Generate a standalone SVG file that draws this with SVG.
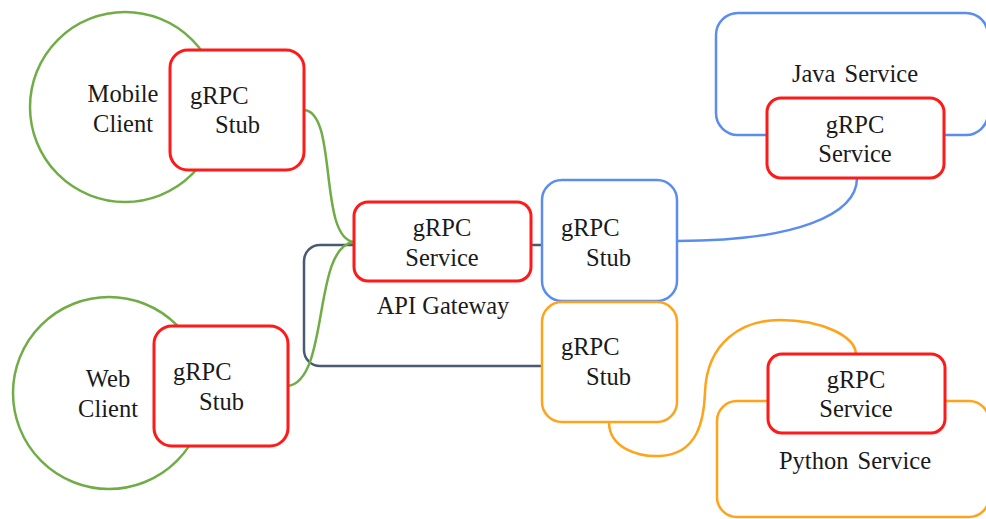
<svg xmlns="http://www.w3.org/2000/svg" width="986" height="519" viewBox="0 0 986 519">
<style>
  text { font-family: "Liberation Serif", "Times New Roman", serif; font-size: 24.5px; fill: #1a1a1a; }
  .mid { text-anchor: middle; }
  .red { fill: #fff; stroke: #FF1A1A; stroke-width: 3; }
  .grn { fill: #fff; stroke: #70AD47; stroke-width: 2.5; }
  .blu { fill: #fff; stroke: #5B8DEF; stroke-width: 2.5; }
  .org { fill: #fff; stroke: #FFA31A; stroke-width: 2.5; }
  .c { fill: none; stroke-width: 2.5; }
</style>
<rect width="986" height="519" fill="#fff"/>

<g id="java-service">
  <rect class="blu" x="716" y="13" width="272" height="122" rx="22"/>
  <text class="mid" x="855" y="82" word-spacing="3">Java Service</text>
</g>
<g id="python-service">
  <rect class="org" x="717" y="401" width="272" height="116" rx="20"/>
  <text class="mid" x="855" y="469" word-spacing="3">Python Service</text>
</g>
<g id="api-gateway">
  <rect x="304" y="245" width="260" height="121" rx="16" fill="none" stroke="#4A5A70" stroke-width="2.5"/>
  <text class="mid" x="443" y="314">API Gateway</text>
</g>

<g id="connectors">
  <path class="c" stroke="#70AD47" d="M304,110 C338,112 318,238 354,242"/>
  <path class="c" stroke="#70AD47" d="M288,386 C330,380 312,246 354,242"/>
  <path class="c" stroke="#5B8DEF" d="M677,241 C795,241 857,215 857,178"/>
  <path class="c" stroke="#FFA31A" d="M609,422 C609,448 638,457 660,456 C698,454 704,420 705,392 C707,342 742,320 780,320 C822,320 855,336 856,354"/>
</g>

<g id="mobile-client">
  <circle class="grn" cx="125" cy="107" r="95"/>
  <text class="mid" x="123" y="102">Mobile</text>
  <text class="mid" x="123" y="132">Client</text>
</g>
<g id="mobile-stub">
  <rect class="red" x="170" y="50" width="134" height="120" rx="18"/>
  <text x="190" y="104">gRPC</text>
  <text x="215" y="133">Stub</text>
</g>

<g id="web-client">
  <circle class="grn" cx="109" cy="393" r="96"/>
  <text class="mid" x="108" y="387">Web</text>
  <text class="mid" x="108" y="417">Client</text>
</g>
<g id="web-stub">
  <rect class="red" x="154" y="326" width="134" height="120" rx="18"/>
  <text x="173" y="380">gRPC</text>
  <text x="199" y="410">Stub</text>
</g>

<g id="gateway-service">
  <rect class="red" x="354" y="202" width="177" height="79" rx="14"/>
  <text class="mid" x="442" y="236">gRPC</text>
  <text class="mid" x="442" y="266">Service</text>
</g>
<g id="java-stub">
  <rect class="blu" x="542" y="180" width="135" height="121" rx="20"/>
  <text x="561" y="236">gRPC</text>
  <text x="586" y="266">Stub</text>
</g>
<g id="python-stub">
  <rect class="org" x="542" y="302" width="135" height="120" rx="20"/>
  <text x="561" y="355">gRPC</text>
  <text x="586" y="385">Stub</text>
</g>

<g id="java-grpc-service">
  <rect class="red" x="767" y="98" width="177" height="80" rx="14"/>
  <text class="mid" x="855" y="133">gRPC</text>
  <text class="mid" x="855" y="162">Service</text>
</g>
<g id="python-grpc-service">
  <rect class="red" x="768" y="354" width="177" height="79" rx="14"/>
  <text class="mid" x="856" y="388">gRPC</text>
  <text class="mid" x="856" y="417">Service</text>
</g>
</svg>
